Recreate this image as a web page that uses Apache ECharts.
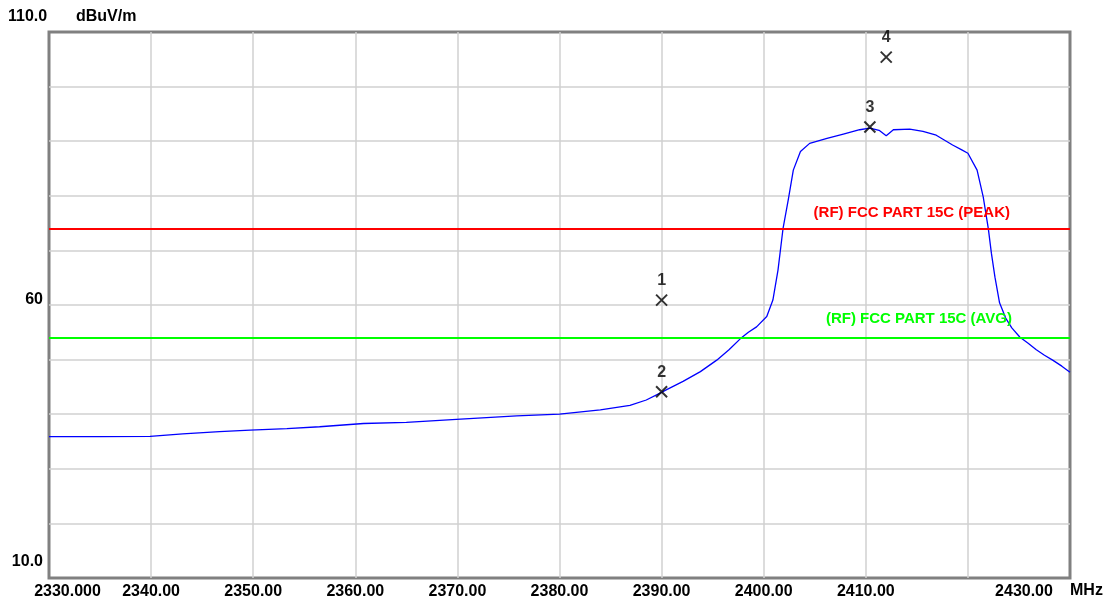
<!DOCTYPE html>
<html>
<head>
<meta charset="utf-8">
<script src="https://cdn.jsdelivr.net/npm/echarts@6/dist/echarts.min.js"></script>
<style>
  html, body { margin: 0; padding: 0; background: #fff; }
  #chart { width: 1113px; height: 603px; }
</style>
</head>
<body>
<div id="chart"></div>
<script>
// trace (MHz / dBuV/m)
var freq = [2330, 2335, 2339.9, 2343.1, 2346.7, 2349.7, 2353.3, 2356.5, 2360.8, 2365,
  2369.9, 2375.8, 2380, 2384, 2386.9, 2388.5, 2389.8, 2390.5, 2392.1, 2393.8,
  2395.4, 2396.6, 2397.7, 2398.5, 2399.3, 2400.3, 2400.9, 2401.4, 2401.9, 2402.4,
  2402.9, 2403.6, 2404.5, 2406.2, 2407.8, 2409.4, 2410.4, 2411.3, 2412.0, 2412.7,
  2414.3, 2415.6, 2416.9, 2418.5, 2419.4, 2420.0, 2420.9, 2421.5, 2422.0, 2422.3,
  2422.65, 2423.1, 2423.7, 2424.3, 2425.1, 2425.9, 2426.7, 2427.5, 2428.3, 2429.2, 2430]
var level = [35.9, 35.9, 35.95, 36.4, 36.8, 37.1, 37.35, 37.7, 38.3, 38.5,
  39.05, 39.7, 40.0, 40.8, 41.6, 42.6, 43.8, 44.5, 46.0, 47.8,
  49.9, 51.8, 53.8, 55.0, 56.0, 57.9, 60.9, 66.4, 74.1, 79.2,
  84.7, 88.1, 89.6, 90.5, 91.3, 92.1, 92.4, 92.0, 91.0, 92.1,
  92.2, 91.8, 91.1, 89.3, 88.4, 87.8, 84.7, 79.8, 74.0, 69.5,
  65.1, 60.4, 57.6, 55.8, 54.1, 53.0, 51.8, 50.8, 49.9, 48.8, 47.7]

var markerFreq = [2390, 2390, 2410.4, 2412.0]
var markerLevel = [60.9, 44.1, 92.6, 105.4]
var markerNames = ['1', '2', '3', '4']

var limitValues = [74, 54]
var limitNames = ['(RF) FCC PART 15C (PEAK)', '(RF) FCC PART 15C (AVG)']
var limitColors = ['#ff0000', '#00ff00']

var font = 'Liberation Sans'

var chart = echarts.init(document.getElementById('chart'))

var traceData = freq.map(function (f, i) { return [f, level[i]] })
var markerData = markerFreq.map(function (f, i) {
  return { name: markerNames[i], value: [f, markerLevel[i]] }
})
var limitLines = limitValues.map(function (v, i) {
  return {
    yAxis: v,
    lineStyle: { color: limitColors[i], width: 2, type: 'solid' },
    label: {
      show: true,
      position: 'insideEndTop',
      distance: i == 0 ? [60, 8] : [58, 11],
      formatter: limitNames[i],
      color: limitColors[i],
      fontFamily: font,
      fontWeight: 'bold',
      fontSize: 15,
    },
  }
})

chart.setOption({
  animation: false,
  backgroundColor: '#fff',
  title: [
    { text: '110.0', left: 8, top: 9, padding: 0,
      textStyle: { fontFamily: font, fontWeight: 'bold', fontSize: 16, color: '#000' } },
    { text: 'dBuV/m', left: 76, top: 9, padding: 0,
      textStyle: { fontFamily: font, fontWeight: 'bold', fontSize: 16, color: '#000' } },
    { text: 'MHz', left: 1070, top: 583, padding: 0,
      textStyle: { fontFamily: font, fontWeight: 'bold', fontSize: 16, color: '#000' } },
  ],
  grid: {
    left: 49,
    right: 43,
    top: 32,
    bottom: 25,
    show: true,
    borderColor: '#808080',
    borderWidth: 3,
  },
  xAxis: {
    type: 'value',
    min: 2330,
    max: 2430,
    interval: 10,
    axisLine: { show: false },
    axisTick: { show: false },
    splitLine: {
      show: true,
      showMinLine: false,
      showMaxLine: false,
      lineStyle: { color: '#d0d0d0', width: 1.5 },
    },
    axisLabel: {
      margin: 6,
      color: '#000',
      fontFamily: font,
      fontWeight: 'bold',
      fontSize: 16,
      formatter: function (v) {
        if (v == 2330) return '{first|2330.000}'
        if (v == 2420) return ''
        if (v == 2430) return '{last|2430.00}'
        return v.toFixed(2)
      },
      rich: {
        first: { padding: [0, 0, 0, 37], fontFamily: font, fontWeight: 'bold', fontSize: 16, color: '#000' },
        last: { padding: [0, 92, 0, 0], fontFamily: font, fontWeight: 'bold', fontSize: 16, color: '#000' },
      },
    },
  },
  yAxis: {
    type: 'value',
    min: 10,
    max: 110,
    interval: 10,
    axisLine: { show: false },
    axisTick: { show: false },
    splitLine: {
      show: true,
      showMinLine: false,
      showMaxLine: false,
      lineStyle: { color: '#d0d0d0', width: 1.5 },
    },
    axisLabel: {
      margin: 6,
      color: '#000',
      fontFamily: font,
      fontWeight: 'bold',
      fontSize: 16,
      formatter: function (v) {
        if (v == 10) return '{lo|10.0}'
        if (v == 60) return '{mid|60}'
        return ''
      },
      rich: {
        lo: { padding: [0, 0, 32, 0], fontFamily: font, fontWeight: 'bold', fontSize: 16, color: '#000' },
        mid: { padding: [0, 0, 10, 0], fontFamily: font, fontWeight: 'bold', fontSize: 16, color: '#000' },
      },
    },
  },
  series: [
    {
      name: 'trace',
      type: 'line',
      data: traceData,
      showSymbol: false,
      symbol: 'none',
      lineStyle: { color: '#0000ff', width: 1.3 },
      markLine: {
        silent: true,
        symbol: 'none',
        data: limitLines,
      },
    },
    {
      name: 'markers',
      type: 'scatter',
      data: markerData,
      symbol: 'path://M0,0L10,10M10,0L0,10',
      symbolSize: 11,
      itemStyle: { color: 'rgba(0,0,0,0)', borderColor: '#000', borderWidth: 2 },
      label: {
        show: true,
        position: 'top',
        distance: 5,
        formatter: '{b}',
        color: '#000',
        fontFamily: font,
        fontWeight: 'bold',
        fontSize: 16,
      },
      z: 5,
    },
  ],
})
</script>
</body>
</html>
